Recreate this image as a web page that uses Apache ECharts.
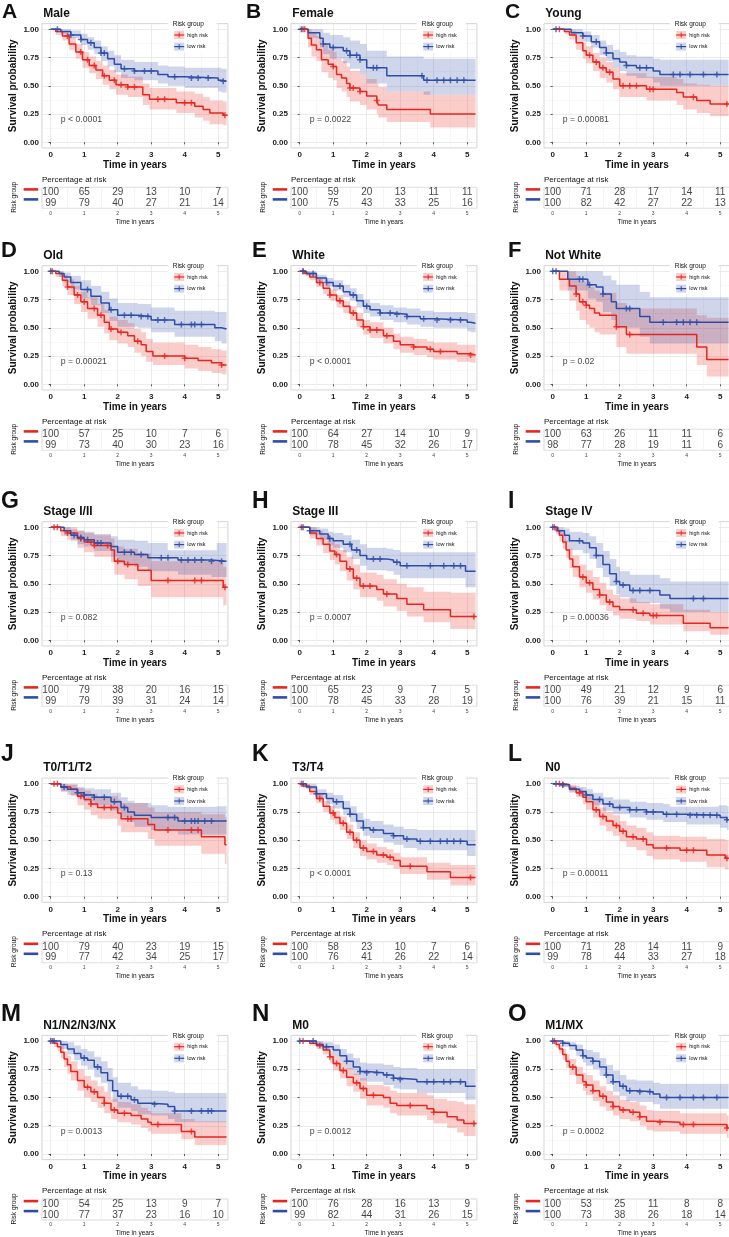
<!DOCTYPE html>
<html><head><meta charset="utf-8">
<script src="https://cdn.jsdelivr.net/npm/echarts@6/dist/echarts.min.js"></script>
<style>html,body{margin:0;padding:0;background:#fff}#c{width:729px;height:1237px}</style>
</head><body><div id="c"></div><script>
const FONT = '"Liberation Sans", Arial, Helvetica, sans-serif';
const RED = '#E8261F', BLUE = '#2E4DA7';
const RED_FILL = 'rgba(232,38,31,0.23)', BLUE_FILL = 'rgba(46,77,167,0.23)';

const letters = ['A','B','C','D','E','F','G','H','I','J','K','L','M','N','O'];
const titles = ['Male','Female','Young','Old','White','Not White','Stage I/II','Stage III','Stage IV','T0/T1/T2','T3/T4','N0','N1/N2/N3/NX','M0','M1/MX'];
const pvals = ['p < 0.0001','p = 0.0022','p = 0.00081','p = 0.00021','p < 0.0001','p = 0.02','p = 0.082','p = 0.0007','p = 0.00036','p = 0.13','p < 0.0001','p = 0.00011','p = 0.0013','p = 0.0012','p = 0.0002'];
const groups = ['high risk','low risk'];
const timeTicks = [0,1,2,3,4,5];
const probTicks = [0,0.25,0.5,0.75,1];
const minorTimeTicks = [0.5,1.5,2.5,3.5,4.5];
const minorProbTicks = [0.125,0.375,0.625,0.875];
const tableGridTicks = [0,0.5,1,1.5,2,2.5,3,3.5,4,4.5,5];
const pvalPos = [0.3,0.2];

// curves: [time, survival, lower CI, upper CI]
const highA = [[0,1,1,1],[0.15,0.98,0.95,1],[0.35,0.94,0.90,0.98],[0.55,0.87,0.82,0.93],[0.75,0.80,0.74,0.87],[0.95,0.73,0.66,0.80],[1.15,0.68,0.61,0.76],[1.35,0.64,0.56,0.72],[1.55,0.59,0.51,0.68],[1.75,0.55,0.47,0.64],[1.95,0.51,0.42,0.60],[2.3,0.49,0.40,0.58],[2.75,0.42,0.33,0.52],[2.95,0.38,0.29,0.48],[3.75,0.35,0.26,0.45],[4.3,0.32,0.22,0.43],[4.55,0.29,0.19,0.40],[4.75,0.26,0.16,0.37],[5.15,0.24,0.15,0.36],[5.25,0.24,0.15,0.36]];
const lowA = [[0,1,1,1],[0.3,0.98,0.96,1],[0.6,0.95,0.92,0.99],[0.9,0.91,0.86,0.96],[1.1,0.88,0.82,0.93],[1.3,0.84,0.78,0.90],[1.5,0.79,0.72,0.85],[1.7,0.74,0.67,0.81],[1.9,0.69,0.62,0.77],[2.1,0.65,0.57,0.73],[2.5,0.63,0.55,0.71],[3.2,0.60,0.52,0.68],[3.5,0.58,0.50,0.67],[4.0,0.57,0.48,0.66],[5.0,0.55,0.45,0.66],[5.1,0.54,0.44,0.65],[5.25,0.54,0.44,0.65]];
const cenHighA = [0.5,0.9,1.1,1.3,1.6,1.9,2.1,2.3,2.5,3.2,3.4,4.0,4.2,5.2];
const cenLowA = [0.2,0.6,0.9,1.2,1.5,1.6,2.2,2.5,2.8,3.0,3.7,4.2,4.4,4.7,5.15];

const highB = [[0,1,1,1],[0.25,0.92,0.84,1],[0.35,0.86,0.76,0.97],[0.5,0.82,0.72,0.94],[0.65,0.73,0.62,0.86],[0.85,0.69,0.57,0.82],[1.0,0.67,0.55,0.80],[1.1,0.60,0.48,0.74],[1.25,0.57,0.45,0.72],[1.4,0.52,0.40,0.67],[1.5,0.48,0.36,0.63],[1.8,0.45,0.33,0.60],[2.0,0.41,0.29,0.56],[2.3,0.37,0.25,0.52],[2.35,0.33,0.22,0.49],[2.6,0.29,0.18,0.45],[3.9,0.25,0.13,0.42],[5.25,0.25,0.13,0.42]];
const lowB = [[0,1,1,1],[0.25,0.97,0.92,1],[0.6,0.92,0.84,1],[0.7,0.87,0.78,0.97],[0.9,0.84,0.74,0.95],[1.3,0.81,0.70,0.93],[1.5,0.77,0.65,0.90],[1.8,0.73,0.60,0.87],[2.0,0.66,0.52,0.81],[2.6,0.59,0.45,0.76],[3.7,0.55,0.42,0.74],[5.25,0.55,0.42,0.74]];
const cenHighB = [0.1,0.15,1.0,1.5,1.6,1.8,2.3];
const cenLowB = [0.05,0.7,1.0,1.4,1.5,1.7,1.8,2.2,2.3,3.65,3.8,4.1,4.3,4.5,4.7,4.9];

const highC = [[0,1,1,1],[0.35,0.98,0.96,1],[0.5,0.95,0.91,0.99],[0.7,0.88,0.82,0.94],[0.9,0.81,0.74,0.88],[1.0,0.77,0.70,0.85],[1.2,0.71,0.63,0.79],[1.4,0.66,0.57,0.75],[1.6,0.62,0.53,0.71],[1.8,0.56,0.47,0.66],[2.0,0.50,0.40,0.61],[2.8,0.47,0.37,0.58],[3.7,0.44,0.33,0.56],[3.9,0.40,0.29,0.52],[4.3,0.37,0.26,0.51],[4.7,0.34,0.23,0.50],[5.25,0.34,0.23,0.50]];
const lowC = [[0,1,1,1],[0.55,0.97,0.94,1],[0.9,0.94,0.89,0.98],[1.15,0.89,0.84,0.95],[1.4,0.84,0.77,0.90],[1.6,0.79,0.72,0.86],[1.8,0.74,0.66,0.82],[2.0,0.71,0.63,0.80],[2.2,0.68,0.59,0.77],[2.5,0.66,0.57,0.76],[3.0,0.63,0.53,0.74],[3.2,0.60,0.50,0.73],[5.25,0.60,0.50,0.73]];
const cenHighC = [0.2,1.1,1.3,1.5,1.7,2.1,2.3,2.5,2.9,3.0,4.2,5.2];
const cenLowC = [0.1,0.9,1.3,1.6,2.2,2.6,2.8,3.6,3.8,4.1,4.5,4.9];

const highD = [[0,1,1,1],[0.15,0.98,0.95,1],[0.35,0.92,0.87,0.97],[0.5,0.86,0.79,0.93],[0.7,0.79,0.71,0.87],[0.9,0.73,0.64,0.82],[1.1,0.67,0.58,0.77],[1.4,0.61,0.51,0.71],[1.6,0.55,0.45,0.66],[1.75,0.49,0.39,0.60],[2.0,0.46,0.36,0.57],[2.3,0.43,0.33,0.54],[2.5,0.38,0.28,0.49],[2.7,0.35,0.25,0.46],[2.85,0.29,0.20,0.40],[3.05,0.25,0.17,0.37],[4.0,0.23,0.14,0.35],[4.4,0.21,0.12,0.33],[4.8,0.19,0.10,0.31],[5.1,0.17,0.09,0.30],[5.25,0.17,0.09,0.30]];
const lowD = [[0,1,1,1],[0.25,0.98,0.95,1],[0.4,0.95,0.90,0.99],[0.6,0.90,0.84,0.96],[0.9,0.84,0.76,0.92],[1.2,0.78,0.70,0.87],[1.5,0.72,0.63,0.82],[1.75,0.66,0.56,0.76],[2.0,0.61,0.51,0.72],[2.6,0.60,0.50,0.71],[3.0,0.57,0.46,0.68],[3.7,0.53,0.42,0.65],[4.9,0.50,0.38,0.64],[5.1,0.49,0.36,0.64],[5.25,0.49,0.36,0.64]];
const cenHighD = [0.05,0.5,0.8,1.0,1.3,1.5,1.8,2.1,2.6,3.4,4.0,5.1];
const cenLowD = [0.0,1.1,1.8,2.2,2.4,2.7,2.9,3.2,3.4,3.9,4.2,4.3,4.5];

const highE = [[0,1,1,1],[0.15,0.98,0.96,1],[0.3,0.95,0.92,0.98],[0.5,0.90,0.86,0.94],[0.7,0.85,0.80,0.89],[0.9,0.79,0.74,0.84],[1.1,0.74,0.68,0.79],[1.3,0.69,0.63,0.74],[1.5,0.63,0.57,0.69],[1.7,0.57,0.51,0.63],[1.9,0.51,0.44,0.57],[2.1,0.48,0.41,0.55],[2.5,0.43,0.36,0.50],[2.8,0.38,0.31,0.45],[3.0,0.35,0.28,0.42],[3.4,0.33,0.26,0.40],[3.8,0.31,0.24,0.38],[4.0,0.29,0.22,0.37],[4.7,0.27,0.20,0.35],[5.1,0.26,0.19,0.35],[5.25,0.26,0.19,0.35]];
const lowE = [[0,1,1,1],[0.2,0.98,0.96,1],[0.5,0.94,0.91,0.97],[0.8,0.90,0.86,0.94],[1.0,0.87,0.83,0.92],[1.3,0.82,0.77,0.88],[1.5,0.79,0.74,0.85],[1.7,0.74,0.68,0.80],[1.9,0.69,0.63,0.75],[2.1,0.66,0.60,0.72],[2.4,0.63,0.57,0.70],[2.8,0.62,0.55,0.68],[3.2,0.60,0.53,0.67],[3.6,0.58,0.51,0.65],[4.0,0.57,0.50,0.64],[5.0,0.55,0.47,0.63],[5.1,0.54,0.46,0.63],[5.25,0.54,0.46,0.63]];
const cenHighE = [0.1,0.6,0.9,1.2,1.6,1.9,2.1,2.3,2.6,3.4,3.9,4.2,5.1];
const cenLowE = [0.1,0.4,0.8,1.2,1.6,2.0,2.4,2.7,2.9,3.2,3.7,4.1,4.5,4.8];

const highF = [[0,1,1,1],[0.2,0.93,0.83,1],[0.5,0.87,0.74,1],[0.7,0.80,0.65,0.96],[0.8,0.73,0.57,0.91],[1.0,0.70,0.53,0.88],[1.1,0.67,0.50,0.86],[1.25,0.63,0.46,0.83],[1.4,0.61,0.44,0.81],[1.9,0.51,0.33,0.72],[2.2,0.44,0.27,0.67],[4.3,0.33,0.17,0.61],[4.6,0.22,0.07,0.59],[5.25,0.22,0.07,0.59]];
const lowF = [[0,1,1,1],[0.45,0.93,0.83,1],[1.05,0.88,0.76,1],[1.3,0.86,0.73,1],[1.5,0.80,0.64,0.96],[1.75,0.73,0.57,0.92],[1.9,0.67,0.50,0.88],[2.6,0.60,0.42,0.82],[2.9,0.55,0.36,0.77],[5.25,0.55,0.36,0.77]];
const cenHighF = [0.7,0.9,1.0,1.9,2.3];
const cenLowF = [0.0,0.1,0.8,0.9,1.1,1.5,2.2,2.3,3.3,3.7,3.9,4.1,4.3];

const highG = [[0,1,1,1],[0.3,0.97,0.92,1],[0.5,0.95,0.89,1],[0.8,0.90,0.82,0.97],[1.0,0.87,0.78,0.95],[1.3,0.84,0.74,0.93],[1.8,0.80,0.69,0.90],[1.9,0.70,0.58,0.83],[2.2,0.67,0.54,0.81],[2.6,0.62,0.48,0.77],[3.0,0.53,0.38,0.70],[5.15,0.47,0.31,0.65],[5.25,0.47,0.31,0.65]];
const lowG = [[0,1,1,1],[0.4,0.97,0.93,1],[0.6,0.93,0.88,0.98],[0.8,0.91,0.85,0.97],[1.0,0.89,0.83,0.96],[1.3,0.86,0.79,0.94],[1.8,0.83,0.74,0.92],[2.0,0.78,0.68,0.89],[2.5,0.76,0.65,0.88],[2.9,0.73,0.61,0.86],[3.8,0.71,0.58,0.86],[4.8,0.70,0.56,0.86],[5.25,0.70,0.56,0.86]];
const cenHighG = [0.1,0.2,0.5,0.9,1.2,1.3,1.7,2.0,2.3,3.5,4.3,4.5,5.2];
const cenLowG = [0.7,0.9,1.1,1.4,1.5,2.2,2.4,2.7,3.3,3.5,3.9,4.1,4.3,4.5,4.8,5.1];

const highH = [[0,1,1,1],[0.3,0.95,0.90,1],[0.5,0.90,0.84,0.97],[0.7,0.85,0.77,0.93],[0.9,0.79,0.71,0.88],[1.05,0.76,0.67,0.85],[1.2,0.70,0.61,0.80],[1.4,0.63,0.53,0.74],[1.6,0.55,0.45,0.67],[1.8,0.48,0.38,0.60],[2.3,0.45,0.35,0.58],[2.5,0.41,0.30,0.54],[2.9,0.37,0.26,0.50],[3.2,0.32,0.21,0.47],[3.7,0.27,0.16,0.43],[4.5,0.21,0.10,0.42],[5.25,0.21,0.10,0.42]];
const lowH = [[0,1,1,1],[0.3,0.97,0.93,1],[0.6,0.94,0.89,0.99],[0.85,0.90,0.84,0.96],[1.0,0.88,0.82,0.95],[1.3,0.85,0.78,0.93],[1.55,0.80,0.72,0.89],[1.8,0.75,0.66,0.85],[2.0,0.72,0.62,0.82],[2.6,0.71,0.61,0.81],[2.8,0.69,0.58,0.80],[3.0,0.66,0.55,0.78],[4.95,0.61,0.47,0.78],[5.25,0.61,0.47,0.78]];
const cenHighH = [0.05,1.1,1.5,1.7,1.9,2.1,2.6,5.2];
const cenLowH = [0.1,0.3,0.9,1.5,1.7,2.2,2.4,2.9,3.2,3.9,4.3,4.6,4.8];

const highI = [[0,1,1,1],[0.1,0.97,0.94,1],[0.2,0.93,0.88,0.98],[0.3,0.87,0.81,0.94],[0.4,0.80,0.73,0.88],[0.5,0.72,0.64,0.81],[0.6,0.65,0.56,0.75],[0.8,0.56,0.47,0.67],[1.0,0.51,0.42,0.62],[1.2,0.45,0.36,0.56],[1.4,0.40,0.31,0.51],[1.6,0.34,0.26,0.45],[1.8,0.30,0.22,0.40],[2.0,0.27,0.19,0.37],[2.5,0.24,0.17,0.34],[2.9,0.22,0.14,0.32],[3.9,0.15,0.08,0.27],[4.7,0.11,0.05,0.25],[5.25,0.11,0.05,0.25]];
const lowI = [[0,1,1,1],[0.15,0.97,0.93,1],[0.35,0.93,0.87,0.99],[0.5,0.88,0.80,0.96],[0.9,0.86,0.77,0.95],[1.1,0.82,0.72,0.92],[1.3,0.75,0.64,0.86],[1.5,0.67,0.56,0.79],[1.7,0.59,0.48,0.72],[1.9,0.52,0.41,0.65],[2.0,0.49,0.38,0.61],[2.3,0.44,0.33,0.58],[3.2,0.40,0.28,0.55],[3.5,0.37,0.25,0.52],[5.25,0.37,0.25,0.52]];
const cenHighI = [0.05,0.9,1.1,1.4,1.7,2.4,2.7,3.0,3.1];
const cenLowI = [0.0,0.8,1.3,1.9,2.1,2.4,2.6,2.9,4.2,4.5];

const highJ = [[0,1,1,1],[0.3,0.97,0.93,1],[0.6,0.95,0.89,1],[0.8,0.89,0.81,0.96],[1.0,0.86,0.77,0.94],[1.2,0.82,0.72,0.91],[1.4,0.79,0.69,0.89],[2.0,0.74,0.63,0.86],[2.1,0.69,0.57,0.83],[2.9,0.64,0.51,0.79],[3.1,0.59,0.45,0.75],[4.5,0.53,0.38,0.73],[5.2,0.46,0.29,0.70],[5.25,0.46,0.29,0.70]];
const lowJ = [[0,1,1,1],[0.3,0.97,0.93,1],[0.5,0.95,0.90,0.99],[0.8,0.92,0.87,0.97],[1.0,0.90,0.84,0.96],[1.3,0.88,0.81,0.95],[1.8,0.84,0.76,0.92],[2.1,0.79,0.70,0.88],[2.3,0.75,0.66,0.85],[2.5,0.72,0.62,0.83],[3.0,0.70,0.59,0.81],[3.8,0.67,0.55,0.80],[5.25,0.67,0.55,0.80]];
const cenHighJ = [0.1,0.2,0.9,1.2,1.6,1.8,2.3,2.4,3.5,4.2,4.4];
const cenLowJ = [0.4,0.8,1.0,1.3,1.6,1.9,2.2,3.5,3.7,4.0,4.2,4.3,4.4,4.6,4.8];

const highK = [[0,1,1,1],[0.1,0.98,0.96,1],[0.3,0.93,0.90,0.97],[0.5,0.87,0.83,0.91],[0.7,0.80,0.75,0.85],[0.9,0.74,0.68,0.80],[1.05,0.70,0.64,0.76],[1.2,0.65,0.59,0.71],[1.4,0.57,0.51,0.64],[1.6,0.50,0.43,0.57],[1.8,0.43,0.36,0.50],[2.0,0.40,0.33,0.47],[2.3,0.37,0.30,0.44],[2.6,0.35,0.28,0.42],[2.8,0.32,0.25,0.39],[3.0,0.27,0.20,0.35],[3.8,0.22,0.15,0.30],[4.5,0.17,0.10,0.28],[5.25,0.17,0.10,0.28]];
const lowK = [[0,1,1,1],[0.2,0.97,0.95,1],[0.5,0.91,0.87,0.95],[0.8,0.87,0.82,0.92],[1.0,0.84,0.78,0.90],[1.3,0.78,0.72,0.85],[1.5,0.73,0.66,0.80],[1.7,0.67,0.60,0.74],[1.9,0.61,0.54,0.69],[2.1,0.59,0.52,0.67],[2.5,0.56,0.48,0.64],[2.8,0.54,0.46,0.62],[3.1,0.51,0.43,0.60],[3.5,0.49,0.41,0.59],[5.0,0.46,0.36,0.59],[5.25,0.46,0.36,0.59]];
const cenHighK = [0.05,0.6,1.0,1.3,1.5,1.7,1.9,2.2,2.5,2.7,3.3,5.1];
const cenLowK = [0.1,0.5,1.1,1.5,1.9,2.2,2.8,3.2,3.6,3.9,4.2,4.4,4.6,4.8];

const highL = [[0,1,1,1],[0.3,0.99,0.97,1],[0.5,0.96,0.93,0.99],[0.7,0.92,0.88,0.96],[0.9,0.88,0.82,0.93],[1.0,0.84,0.77,0.91],[1.2,0.77,0.70,0.85],[1.4,0.71,0.63,0.79],[1.6,0.67,0.58,0.75],[1.8,0.63,0.54,0.72],[2.0,0.58,0.49,0.67],[2.2,0.53,0.44,0.63],[2.5,0.51,0.41,0.61],[2.8,0.46,0.36,0.57],[3.0,0.43,0.33,0.54],[3.8,0.41,0.31,0.53],[4.6,0.37,0.26,0.51],[5.15,0.34,0.24,0.50],[5.25,0.34,0.24,0.50]];
const lowL = [[0,1,1,1],[0.2,0.99,0.97,1],[0.5,0.95,0.92,0.98],[0.8,0.93,0.89,0.97],[1.0,0.90,0.85,0.95],[1.2,0.86,0.81,0.92],[1.5,0.82,0.76,0.88],[1.8,0.79,0.73,0.86],[2.3,0.77,0.70,0.84],[2.8,0.75,0.68,0.83],[3.3,0.73,0.66,0.82],[4.0,0.72,0.64,0.81],[5.0,0.70,0.61,0.81],[5.2,0.68,0.59,0.80],[5.25,0.68,0.59,0.80]];
const cenHighL = [0.2,0.3,0.8,1.3,1.5,1.9,2.1,2.4,2.7,3.4,4.0,4.2,5.2];
const cenLowL = [0.1,0.3,1.0,1.4,1.7,2.0,2.3,2.5,2.8,3.0,3.4,3.7,4.1,4.3,4.5,4.7,4.9,5.2];

const highM = [[0,1,1,1],[0.1,0.98,0.95,1],[0.2,0.95,0.91,0.99],[0.3,0.90,0.85,0.96],[0.4,0.84,0.77,0.91],[0.5,0.79,0.71,0.87],[0.6,0.73,0.65,0.82],[0.8,0.65,0.56,0.75],[1.0,0.59,0.50,0.69],[1.2,0.55,0.46,0.65],[1.4,0.50,0.41,0.60],[1.6,0.45,0.36,0.55],[1.8,0.39,0.31,0.49],[2.0,0.36,0.28,0.46],[2.4,0.34,0.26,0.44],[2.7,0.31,0.23,0.41],[2.9,0.28,0.20,0.38],[3.0,0.26,0.18,0.36],[3.9,0.20,0.13,0.31],[4.3,0.15,0.08,0.29],[5.25,0.15,0.08,0.29]];
const lowM = [[0,1,1,1],[0.3,0.97,0.93,1],[0.5,0.93,0.88,0.99],[0.7,0.89,0.83,0.96],[0.9,0.85,0.78,0.93],[1.1,0.83,0.75,0.91],[1.3,0.77,0.68,0.86],[1.5,0.72,0.63,0.82],[1.7,0.65,0.55,0.76],[1.85,0.56,0.46,0.68],[2.0,0.51,0.41,0.63],[2.4,0.48,0.38,0.60],[2.6,0.45,0.35,0.57],[3.0,0.44,0.34,0.56],[3.5,0.42,0.31,0.55],[3.7,0.38,0.28,0.54],[5.25,0.38,0.28,0.54]];
const cenHighM = [0.05,1.1,1.3,1.6,1.9,2.2,3.2,4.2];
const cenLowM = [0.0,0.1,1.0,1.4,2.1,2.3,2.5,3.1,3.7,4.2,4.5,4.7,4.8];

const highN = [[0,1,1,1],[0.3,0.98,0.96,1],[0.5,0.96,0.93,0.99],[0.7,0.92,0.88,0.96],[0.9,0.86,0.81,0.91],[1.0,0.80,0.74,0.87],[1.2,0.74,0.67,0.81],[1.4,0.68,0.60,0.76],[1.6,0.63,0.55,0.71],[1.8,0.58,0.49,0.67],[2.0,0.52,0.43,0.61],[2.5,0.50,0.41,0.60],[2.7,0.45,0.36,0.56],[2.9,0.43,0.34,0.54],[3.8,0.40,0.30,0.52],[4.0,0.37,0.27,0.49],[4.4,0.33,0.23,0.47],[4.7,0.30,0.19,0.46],[4.9,0.27,0.16,0.44],[5.25,0.27,0.16,0.44]];
const lowN = [[0,1,1,1],[0.5,0.97,0.95,1],[0.7,0.95,0.92,0.99],[1.0,0.92,0.87,0.97],[1.2,0.87,0.81,0.93],[1.4,0.82,0.75,0.89],[1.6,0.77,0.70,0.85],[1.8,0.73,0.65,0.81],[2.0,0.72,0.64,0.80],[2.5,0.70,0.61,0.79],[2.8,0.67,0.58,0.77],[3.0,0.66,0.57,0.76],[3.5,0.64,0.54,0.75],[4.95,0.60,0.48,0.75],[5.25,0.60,0.48,0.75]];
const cenHighN = [0.1,0.6,0.9,1.1,1.3,1.7,1.9,2.2,3.3,4.0,5.2];
const cenLowN = [0.0,0.4,0.8,1.4,1.8,2.0,2.3,2.6,2.8,3.0,3.8,4.0,4.3,4.5,4.8];

const highO = [[0,1,1,1],[0.1,0.97,0.94,1],[0.2,0.93,0.89,0.97],[0.3,0.88,0.83,0.93],[0.4,0.82,0.76,0.88],[0.5,0.77,0.70,0.84],[0.7,0.70,0.62,0.77],[0.9,0.64,0.56,0.72],[1.0,0.61,0.52,0.70],[1.2,0.56,0.47,0.65],[1.4,0.51,0.42,0.60],[1.6,0.46,0.38,0.56],[1.8,0.42,0.34,0.52],[2.0,0.39,0.31,0.48],[2.3,0.37,0.29,0.46],[2.6,0.33,0.25,0.43],[2.8,0.29,0.21,0.39],[3.0,0.28,0.20,0.38],[3.8,0.26,0.18,0.36],[5.2,0.23,0.14,0.34],[5.25,0.23,0.14,0.34]];
const lowO = [[0,1,1,1],[0.3,0.98,0.95,1],[0.5,0.96,0.92,0.99],[0.7,0.92,0.87,0.97],[0.9,0.87,0.81,0.93],[1.0,0.85,0.78,0.92],[1.2,0.82,0.75,0.90],[1.4,0.77,0.69,0.85],[1.6,0.70,0.62,0.79],[1.8,0.64,0.55,0.74],[2.0,0.60,0.51,0.70],[2.2,0.56,0.47,0.66],[2.5,0.55,0.46,0.65],[3.0,0.53,0.44,0.63],[3.2,0.50,0.40,0.62],[5.25,0.50,0.40,0.62]];
const cenHighO = [0.05,0.6,1.0,1.2,1.5,1.8,2.1,2.4,2.6,3.2,3.9,4.2,5.2];
const cenLowO = [0.0,0.3,0.9,1.2,1.6,1.8,2.1,2.3,2.6,2.9,3.4,3.8,4.2,4.5,4.9];

// percentage at risk at years 0..5
const riskHighA = [100,65,29,13,10,7],  riskLowA = [99,79,40,27,21,14];
const riskHighB = [100,59,20,13,11,11], riskLowB = [100,75,43,33,25,16];
const riskHighC = [100,71,28,17,14,11], riskLowC = [100,82,42,27,22,13];
const riskHighD = [100,57,25,10,7,6],   riskLowD = [99,73,40,30,23,16];
const riskHighE = [100,64,27,14,10,9],  riskLowE = [100,78,45,32,26,17];
const riskHighF = [100,63,26,11,11,6],  riskLowF = [98,77,28,19,11,6];
const riskHighG = [100,79,38,20,16,15], riskLowG = [99,79,39,31,24,14];
const riskHighH = [100,65,23,9,7,5],    riskLowH = [100,78,45,33,28,19];
const riskHighI = [100,49,21,12,9,6],   riskLowI = [100,76,39,21,15,11];
const riskHighJ = [100,79,40,23,19,15], riskLowJ = [99,77,42,34,25,17];
const riskHighK = [100,58,23,10,7,6],   riskLowK = [100,76,41,26,22,14];
const riskHighL = [100,71,28,14,11,9],  riskLowL = [99,78,44,33,27,18];
const riskHighM = [100,54,25,13,9,7],   riskLowM = [100,77,37,23,16,10];
const riskHighN = [100,76,28,16,13,9],  riskLowN = [99,82,44,31,26,15];
const riskHighO = [100,53,25,11,8,8],   riskLowO = [100,73,38,26,18,14];

const panels = [
  [highA,lowA,cenHighA,cenLowA,riskHighA,riskLowA],
  [highB,lowB,cenHighB,cenLowB,riskHighB,riskLowB],
  [highC,lowC,cenHighC,cenLowC,riskHighC,riskLowC],
  [highD,lowD,cenHighD,cenLowD,riskHighD,riskLowD],
  [highE,lowE,cenHighE,cenLowE,riskHighE,riskLowE],
  [highF,lowF,cenHighF,cenLowF,riskHighF,riskLowF],
  [highG,lowG,cenHighG,cenLowG,riskHighG,riskLowG],
  [highH,lowH,cenHighH,cenLowH,riskHighH,riskLowH],
  [highI,lowI,cenHighI,cenLowI,riskHighI,riskLowI],
  [highJ,lowJ,cenHighJ,cenLowJ,riskHighJ,riskLowJ],
  [highK,lowK,cenHighK,cenLowK,riskHighK,riskLowK],
  [highL,lowL,cenHighL,cenLowL,riskHighL,riskLowL],
  [highM,lowM,cenHighM,cenLowM,riskHighM,riskLowM],
  [highN,lowN,cenHighN,cenLowN,riskHighN,riskLowN],
  [highO,lowO,cenHighO,cenLowO,riskHighO,riskLowO]
];

// layout (pixels)
const colX0 = [50.7, 299.7, 552.7];        // pixel of t = 0
const rowY1 = [29.3, 271.3, 527.3, 783.7, 1041]; // pixel of S = 1.00
const PX_PER_YEAR = 33.5, PX_PER_UNIT = 113;
const X_MIN = -0.26, X_MAX = 5.29, Y_MIN = -0.05, Y_MAX = 1.05;
const letterX = [[2,246,505],[1,252,508],[1,252,508],[1,252,508],[1,252,508]];
const letterY = [12.5, 250.8, 501.7, 754.7, 1014.5];
const letterSize = [21, 22, 23, 23, 24];

const PLUS = 'path://M3,0h2v3h3v2h-3v3h-2v-3h-3v-2h3z';

function survAt(curve, t) {
  let s = curve[0][1];
  for (const p of curve) { if (p[0] <= t) s = p[1]; else break; }
  return s;
}

function bandSeries(curve, fill, xi, yi) {
  return {
    type: 'custom', xAxisIndex: xi, yAxisIndex: yi, z: 1, silent: true,
    data: [[curve[0][0], curve[0][1]]],
    renderItem: (params, api) => {
      const up = [], dn = [];
      for (let i = 0; i < curve.length; i++) {
        const t0 = curve[i][0];
        const t1 = i + 1 < curve.length ? curve[i + 1][0] : curve[i][0];
        up.push(api.coord([t0, curve[i][3]]), api.coord([t1, curve[i][3]]));
        dn.push(api.coord([t0, curve[i][2]]), api.coord([t1, curve[i][2]]));
      }
      return { type: 'polygon', shape: { points: up.concat(dn.reverse()) }, style: { fill: fill } };
    }
  };
}

const grid = [], xAxis = [], yAxis = [], series = [], graphic = [];
const gridW = (X_MAX - X_MIN) * PX_PER_YEAR, gridH = (Y_MAX - Y_MIN) * PX_PER_UNIT;
const txt = (x, y, text, size, weight, align, extra) => Object.assign({
  type: 'text', x: x, y: y, z: 100,
  style: { text: text, fontSize: size, fontWeight: weight, fontFamily: FONT, fill: '#111', align: align, verticalAlign: 'middle' }
}, extra || {});

panels.forEach((pd, k) => {
  const [high, low, cenHigh, cenLow, riskHigh, riskLow] = pd;
  const c = k % 3, r = Math.floor(k / 3);
  const x0 = colX0[c], y1 = rowY1[r];
  const gl = x0 + X_MIN * PX_PER_YEAR, gt = y1 - (Y_MAX - 1) * PX_PER_UNIT;
  const gm = 2 * k, gtab = 2 * k + 1;
  const xm = 3 * k, xt = 3 * k + 2;

  grid.push({ left: gl, top: gt, width: gridW, height: gridH, show: true, backgroundColor: '#fff',
              borderColor: '#c9c9c9', borderWidth: 0.8, outerBoundsMode: 'none', containLabel: false });
  grid.push({ left: gl, top: y1 + 158, width: gridW, height: 21, show: true, backgroundColor: '#fff',
              borderColor: '#cdcdcd', borderWidth: 0.8, outerBoundsMode: 'none', containLabel: false });

  // main x axis
  xAxis.push({ type: 'value', gridIndex: gm, min: X_MIN, max: X_MAX,
    name: 'Time in years', nameLocation: 'middle', nameGap: 11,
    nameTextStyle: { fontSize: 10, fontWeight: 'bold', fontFamily: FONT, color: '#111' },
    axisLine: { show: false },
    axisTick: { show: true, length: 2, customValues: timeTicks, lineStyle: { color: '#333', width: 0.8 } },
    axisLabel: { customValues: timeTicks, fontSize: 8, fontWeight: 'bold', fontFamily: FONT, color: '#222', margin: 3 },
    splitLine: { show: true, lineStyle: { color: '#e6e6e6', width: 0.8 } } });
  // minor x grid
  xAxis.push({ type: 'value', gridIndex: gm, min: X_MIN, max: X_MAX, position: 'top',
    axisLine: { show: false }, axisLabel: { show: false },
    axisTick: { show: false, customValues: minorTimeTicks },
    splitLine: { show: true, lineStyle: { color: '#f2f2f2', width: 0.6 } } });
  // table x axis
  xAxis.push({ type: 'value', gridIndex: gtab, min: X_MIN, max: X_MAX,
    name: 'Time in years', nameLocation: 'middle', nameGap: 10,
    nameTextStyle: { fontSize: 6.5, fontFamily: FONT, color: '#111' },
    axisLine: { show: false },
    axisTick: { show: false, customValues: tableGridTicks },
    axisLabel: { customValues: timeTicks, fontSize: 5, fontFamily: FONT, color: '#444', margin: 2.5 },
    splitLine: { show: true, lineStyle: { color: '#ededed', width: 0.6 } } });

  yAxis.push({ type: 'value', gridIndex: gm, min: Y_MIN, max: Y_MAX,
    name: 'Survival probability', nameLocation: 'middle', nameGap: 24,
    nameTextStyle: { fontSize: 10, fontWeight: 'bold', fontFamily: FONT, color: '#111' },
    axisLine: { show: false },
    axisTick: { show: true, length: 2, customValues: probTicks, lineStyle: { color: '#333', width: 0.8 } },
    axisLabel: { customValues: probTicks, fontSize: 8, fontWeight: 'bold', fontFamily: FONT, color: '#222', margin: 3,
                 formatter: v => Number(v).toFixed(2) },
    splitLine: { show: true, lineStyle: { color: '#e6e6e6', width: 0.8 } } });
  yAxis.push({ type: 'value', gridIndex: gm, min: Y_MIN, max: Y_MAX, position: 'right',
    axisLine: { show: false }, axisLabel: { show: false },
    axisTick: { show: false, customValues: minorProbTicks },
    splitLine: { show: true, lineStyle: { color: '#f2f2f2', width: 0.6 } } });
  yAxis.push({ type: 'category', gridIndex: gtab, data: groups, inverse: true,
    axisLine: { show: false }, axisTick: { show: false }, axisLabel: { show: false },
    splitLine: { show: true, lineStyle: { color: '#ededed', width: 0.6 } } });

  // bands
  series.push(bandSeries(high, RED_FILL, xm, xm));
  series.push(bandSeries(low, BLUE_FILL, xm, xm));
  // curves
  [[high, RED, groups[0]], [low, BLUE, groups[1]]].forEach(([cv, col, nm]) => {
    series.push({ type: 'line', name: nm, xAxisIndex: xm, yAxisIndex: xm, step: 'end', z: 3,
      symbol: 'none', showSymbol: false, silent: true,
      data: cv.map(p => [p[0], p[1]]), lineStyle: { color: col, width: 1.5 }, itemStyle: { color: col } });
  });
  // censor marks
  [[high, cenHigh, RED], [low, cenLow, BLUE]].forEach(([cv, cen, col]) => {
    series.push({ type: 'scatter', xAxisIndex: xm, yAxisIndex: xm, z: 4, silent: true,
      symbol: PLUS, symbolSize: 6, itemStyle: { color: col },
      data: cen.map(t => [t, survAt(cv, t)]) });
  });
  // p value
  series.push({ type: 'scatter', xAxisIndex: xm, yAxisIndex: xm, z: 5, silent: true, symbolSize: 0,
    data: [pvalPos],
    label: { show: true, position: 'right', distance: 0, formatter: pvals[k], fontSize: 8.7,
             fontFamily: FONT, color: '#111' } });
  // risk table
  [[riskHigh, 0], [riskLow, 1]].forEach(([risk, row]) => {
    series.push({ type: 'scatter', xAxisIndex: xt, yAxisIndex: xt, z: 5, silent: true, symbolSize: 0,
      data: risk.map((v, i) => [timeTicks[i], row, v]),
      label: { show: true, position: 'inside', formatter: p => String(p.data[2]), fontSize: 10,
               fontFamily: FONT, color: '#111' } });
  });

  // panel letter and title
  graphic.push(txt(letterX[r][c], letterY[r], letters[k], letterSize[r], 'bold', 'left'));
  graphic.push(txt(x0 - 7.5, y1 - 15.7, titles[k], 12, 'bold', 'left'));

  // legend (inside plot, top-right)
  graphic.push({ type: 'rect', z: 99, shape: { x: x0 + 117, y: y1 - 11, width: 49, height: 34 }, style: { fill: '#fff' } });
  graphic.push(txt(x0 + 122, y1 - 5, 'Risk group', 6.5, 'normal', 'left'));
  [[groups[0], RED, RED_FILL, y1 + 5.7], [groups[1], BLUE, BLUE_FILL, y1 + 17.3]].forEach(([lab, col, fill, cy]) => {
    graphic.push({ type: 'rect', z: 100, shape: { x: x0 + 123.5, y: cy - 4, width: 10, height: 8 }, style: { fill: fill } });
    graphic.push({ type: 'line', z: 101, shape: { x1: x0 + 123.5, y1: cy, x2: x0 + 133.5, y2: cy }, style: { stroke: col, lineWidth: 1.2 } });
    graphic.push({ type: 'line', z: 101, shape: { x1: x0 + 128.5, y1: cy - 2.5, x2: x0 + 128.5, y2: cy + 2.5 }, style: { stroke: col, lineWidth: 1 } });
    graphic.push(txt(x0 + 136.5, cy, lab, 5.5, 'normal', 'left'));
  });

  // risk table decorations
  graphic.push(txt(gl, y1 + 150, 'Percentage at risk', 8, 'normal', 'left'));
  graphic.push({ type: 'rect', z: 100, shape: { x: x0 - 27, y: y1 + 158.8, width: 14.5, height: 2.6 }, style: { fill: RED } });
  graphic.push({ type: 'rect', z: 100, shape: { x: x0 - 27, y: y1 + 168.8, width: 14.5, height: 2.6 }, style: { fill: BLUE } });
  graphic.push(txt(x0 - 36, y1 + 168, 'Risk group', 6.5, 'normal', 'center', { rotation: Math.PI / 2 }));
});

const chart = echarts.init(document.getElementById('c'), null, { renderer: 'canvas' });
chart.setOption({
  animation: false,
  backgroundColor: '#fff',
  textStyle: { fontFamily: FONT },
  grid: grid, xAxis: xAxis, yAxis: yAxis, series: series, graphic: graphic
});
</script></body></html>
